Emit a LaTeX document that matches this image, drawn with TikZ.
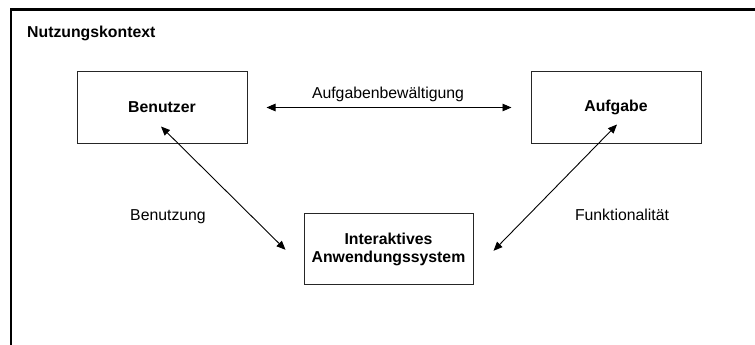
\documentclass[tikz,border=0pt]{standalone}
\usepackage{fontspec}
\setmainfont{Liberation Sans}
\usetikzlibrary{arrows.meta}
\begin{document}
\begin{tikzpicture}[x=1pt,y=-1pt,
  every node/.style={font=\fontsize{15.8}{18.5}\selectfont, inner sep=0pt},
  unitbox/.style={draw=black!85, line width=1pt, minimum width=170pt, minimum height=71pt,
    align=center, font=\fontsize{15.8}{18.5}\selectfont\bfseries},
  label/.style={anchor=base},
  link/.style={line width=0.9pt, {Triangle[length=9pt,width=7.5pt]}-{Triangle[length=9pt,width=7.5pt]}},
  frame/.style={line width=2.3pt, line join=miter}]
  \useasboundingbox (0,0) rectangle (755,345);

  % context frame (open towards the right and bottom)
  \coordinate (fb) at (11.2,360);
  \coordinate (fc) at (11.2,9.5);
  \coordinate (fr) at (770,9.5);
  \draw[frame] (fb) -- (fc) -- (fr);
  \node[label, anchor=base west, font=\fontsize{15.8}{18.5}\selectfont\bfseries] (ctx) at (27,37.8) {Nutzungskontext};

  % the three elements
  \node[unitbox] (user) at (162,107.5) {Benutzer};
  \node[unitbox] (task) at (616,107.5) {Aufgabe};
  \node[unitbox, minimum width=169pt, yshift=1.2pt] (sys) at (388.5,250.5) {Interaktives\\Anwendungssystem};

  % relations
  \draw[link] ([xshift=19pt]user.east) -- ([xshift=-19pt]task.west);
  \draw[link] ([shift={(-1pt,17pt)}]user.south) -- ([shift={(-18pt,-0.5pt)}]sys.west);
  \draw[link] ([shift={(1pt,19pt)}]task.south) -- ([shift={(20pt,-1.5pt)}]sys.east);

  \node[label] (lab1) at (388,98) {Aufgabenbewältigung};
  \node[label] (lab2) at (168,220.5) {Benutzung};
  \node[label] (lab3) at (622,220.5) {Funktionalität};
\end{tikzpicture}
\end{document}
